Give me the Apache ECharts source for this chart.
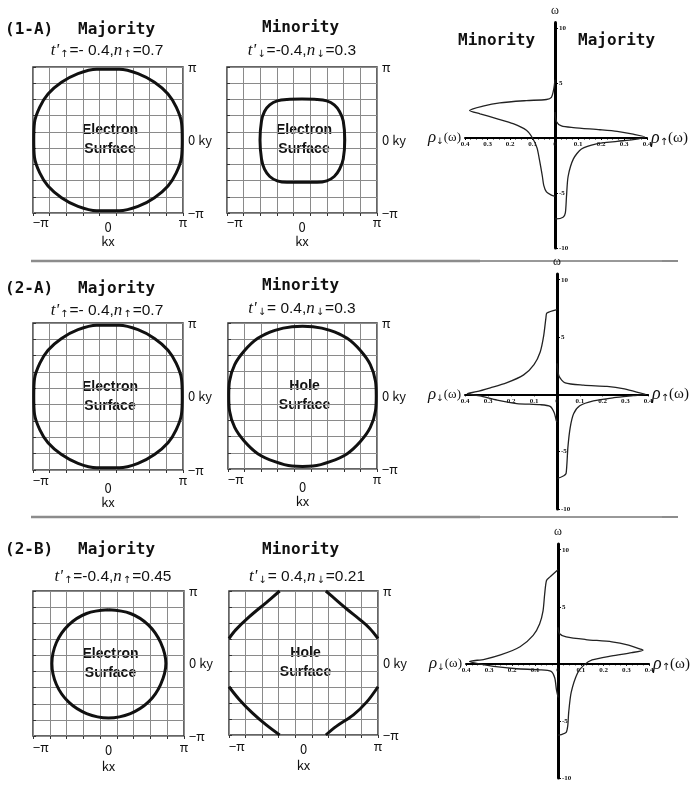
<!DOCTYPE html>
<html>
<head>
<meta charset="utf-8">
<script src="https://cdn.jsdelivr.net/npm/echarts@6/dist/echarts.min.js"></script>
<style>
  html, body { margin: 0; background: #fff; }
  #chart { width: 691px; height: 785px; }
</style>
</head>
<body>
<div id="chart"></div>
<script>
// Fermi surfaces, [kx, ky] in units of pi
const fsMajority07 = [[0,0.97],[0.15,0.97],[0.4,0.91],[0.62,0.79],[0.8,0.63],[0.91,0.45],[0.98,0.24],[0.99,0],[0.98,-0.24],[0.91,-0.45],[0.8,-0.63],[0.62,-0.79],[0.4,-0.91],[0.15,-0.97],[0,-0.97],[-0.15,-0.97],[-0.4,-0.91],[-0.62,-0.79],[-0.8,-0.63],[-0.91,-0.45],[-0.98,-0.24],[-0.99,0],[-0.98,0.24],[-0.91,0.45],[-0.8,0.63],[-0.62,0.79],[-0.4,0.91],[-0.15,0.97],[0,0.97]];
const fsMinority03e = [[0,0.56],[0.2,0.555],[0.33,0.535],[0.43,0.48],[0.5,0.39],[0.55,0.26],[0.57,0],[0.55,-0.26],[0.5,-0.4],[0.43,-0.5],[0.33,-0.56],[0.2,-0.58],[0,-0.58],[-0.2,-0.58],[-0.33,-0.56],[-0.43,-0.5],[-0.5,-0.4],[-0.54,-0.26],[-0.56,0],[-0.54,0.26],[-0.5,0.39],[-0.43,0.48],[-0.33,0.535],[-0.2,0.555],[0,0.56]];
const fsMinority03h = [[0,0.955],[0.14,0.95],[0.37,0.9],[0.6,0.79],[0.78,0.62],[0.91,0.43],[0.98,0.2],[0.99,0],[0.98,-0.2],[0.91,-0.43],[0.78,-0.62],[0.6,-0.79],[0.37,-0.9],[0.14,-0.96],[0,-0.965],[-0.14,-0.96],[-0.37,-0.9],[-0.6,-0.79],[-0.78,-0.62],[-0.91,-0.43],[-0.98,-0.2],[-0.99,0],[-0.98,0.2],[-0.91,0.43],[-0.78,0.62],[-0.6,0.79],[-0.37,0.9],[-0.14,0.95],[0,0.955]];
const fsMajority045 = [[0,0.74],[0.29,0.69],[0.53,0.53],[0.69,0.29],[0.76,0],[0.69,-0.29],[0.53,-0.53],[0.29,-0.69],[0,-0.75],[-0.29,-0.69],[-0.53,-0.53],[-0.69,-0.29],[-0.75,0],[-0.69,0.29],[-0.53,0.53],[-0.29,0.69],[0,0.74]];
const fsHoleTL = [[-0.32,1],[-0.5,0.84],[-0.73,0.64],[-0.91,0.46],[-1,0.34]];
const fsHoleTR = [[0.3,1],[0.4,0.91],[0.58,0.75],[0.76,0.6],[0.89,0.48],[1,0.34]];
const fsHoleBL = [[-1,-0.33],[-0.86,-0.51],[-0.68,-0.7],[-0.5,-0.86],[-0.32,-1]];
const fsHoleBR = [[1,-0.33],[0.85,-0.54],[0.67,-0.72],[0.44,-0.88],[0.3,-1]];

// density of states, [rho, omega]
const dos1Down = [[0,5.3],[0.006,4.4],[0.016,3.7],[0.038,3.5],[0.127,3.4],[0.245,3.2],[0.32,2.9],[0.38,2.5],[0.333,2.2],[0.26,1.76],[0.186,1.3],[0.127,0.7],[0.1,0],[0.08,-0.9],[0.068,-2.1],[0.056,-3.5],[0.05,-4.3],[0.038,-4.9],[0.016,-5.2],[0,-5.3]];
const dos1Up = [[0,2.35],[0.006,1.5],[0.028,1.1],[0.08,0.95],[0.196,0.75],[0.27,0.6],[0.34,0.35],[0.39,0.1],[0.34,-0.15],[0.27,-0.3],[0.18,-0.53],[0.115,-1.0],[0.08,-1.9],[0.057,-3.5],[0.05,-5.3],[0.045,-6.8],[0.035,-7.2],[0.006,-7.35],[0,-7.35]];
const dos2Down = [[0,7.4],[0.044,7.1],[0.048,6.7],[0.058,5.1],[0.073,3.7],[0.1,2.6],[0.145,1.7],[0.22,1.0],[0.29,0.57],[0.35,0.23],[0.39,0.06],[0.335,-0.14],[0.26,-0.5],[0.175,-0.8],[0.073,-0.9],[0.03,-1.05],[0.012,-1.6],[0.003,-2.3],[0,-2.4]];
const dos2Up = [[0,2.7],[0.009,1.57],[0.036,1.0],[0.116,0.8],[0.22,0.69],[0.29,0.51],[0.35,0.2],[0.39,0],[0.335,-0.11],[0.25,-0.29],[0.16,-0.57],[0.1,-1.0],[0.073,-1.7],[0.058,-2.9],[0.048,-4.6],[0.04,-6.9],[0.03,-7.1],[0.003,-7.3],[0,-7.3]];
const dos3Down = [[0,8.25],[0.036,7.6],[0.05,7.3],[0.058,6.1],[0.065,4.65],[0.08,3.5],[0.108,2.5],[0.165,1.5],[0.25,0.78],[0.32,0.4],[0.385,0.2],[0.338,-0.03],[0.28,-0.23],[0.18,-0.43],[0.08,-0.52],[0.03,-0.66],[0.014,-1.24],[0.007,-2.24],[0.001,-2.8],[0,-2.95]];
const dos3Up = [[0,3.2],[0.007,2.64],[0.036,2.36],[0.122,2.13],[0.237,1.93],[0.31,1.64],[0.367,1.26],[0.374,1.2],[0.324,0.98],[0.237,0.69],[0.15,0.34],[0.115,-0.09],[0.086,-0.8],[0.058,-2.5],[0.047,-4.25],[0.043,-5.4],[0.036,-6.0],[0.014,-6.2],[0,-6.25]];

const GOTHIC = 'DejaVu Sans Mono';
const SANS = 'Liberation Sans';
const SERIF = 'Liberation Serif';
const NARROW = 'Liberation Sans Narrow';

const grids = [];
const xAxes = [];
const yAxes = [];
const series = [];
const graphics = [];

function addSquare(box, curves, text, lab) {
  const gi = grids.length;
  grids.push({ left: box.x, top: box.y, width: box.w, height: box.h, show: true,
    borderColor: '#333', borderWidth: 1.5, backgroundColor: '#fff' });

  // grid-line axes (9 cells each way)
  xAxes.push({ gridIndex: gi, type: 'value', min: 0, max: 9, interval: 1, position: 'top',
    axisLine: { show: false }, axisLabel: { show: false },
    axisTick: { inside: true, length: 3, lineStyle: { color: '#333' } },
    splitLine: { lineStyle: { color: '#8a8a8a', width: 1 } } });
  yAxes.push({ gridIndex: gi, type: 'value', min: 0, max: 9, interval: 1, position: 'left',
    axisLine: { show: false }, axisLabel: { show: false },
    axisTick: { inside: true, length: 3, lineStyle: { color: '#333' } },
    splitLine: { lineStyle: { color: '#8a8a8a', width: 1 } } });

  // data axes in units of pi
  const xi = xAxes.length;
  xAxes.push({ gridIndex: gi, type: 'value', min: -1, max: 1, interval: 1, position: 'bottom',
    axisLine: { show: false }, axisTick: { show: false }, splitLine: { show: false },
    name: 'kx', nameLocation: 'middle', nameGap: lab.nameGap,
    nameTextStyle: { fontFamily: 'Noto Sans CJK JP', fontSize: 13, color: '#111' },
    axisLabel: { margin: lab.margin, alignMinLabel: 'left', color: '#111', fontFamily: 'Noto Sans CJK JP', fontSize: 13,
      formatter: v => v === -1 ? '−π' : (v === 1 ? 'π' : '{z|0}'),
      rich: { z: { fontFamily: 'Noto Sans CJK JP', fontSize: 13, color: '#111', padding: [lab.zeroPad, 0, 0, 0] } } } });
  const yi = yAxes.length;
  yAxes.push({ gridIndex: gi, type: 'value', min: -1, max: 1, interval: 1, position: 'right',
    axisLine: { show: false }, axisTick: { show: false }, splitLine: { show: false },
    axisLabel: { margin: 5, color: '#111', fontFamily: 'Noto Sans CJK JP', fontSize: 13,
      formatter: v => v === -1 ? '−π' : (v === 1 ? 'π' : '0 ky') } });

  curves.forEach(c => series.push({
    type: 'line', xAxisIndex: xi, yAxisIndex: yi, data: c, showSymbol: false, smooth: 0.35,
    lineStyle: { color: '#111', width: 3 }, silent: true
  }));

  graphics.push({ type: 'text', x: box.x + box.w / 2 + 2, y: box.y + box.h / 2,
    style: { text: text, align: 'center', verticalAlign: 'middle', font: 'bold 14px ' + SANS,
      lineHeight: 19, fill: '#111', stroke: '#fff', lineWidth: 2 } });
}

// thin helper grid that only carries a drawn rho axis at the omega = 0 line
function addRhoAxis(left, width, axisY, inverse, hideZero) {
  const g = grids.length;
  grids.push({ left: left, top: axisY - 10, width: width, height: 10 });
  xAxes.push({ gridIndex: g, type: 'value', min: 0, max: 0.4, interval: 0.1, inverse: inverse, position: 'bottom',
    axisLine: { lineStyle: { color: '#000', width: 2 } },
    axisTick: { length: 2, lineStyle: { color: '#000' } },
    minorTick: { show: true, splitNumber: 4, length: 1.5, lineStyle: { color: '#000' } },
    splitLine: { show: false },
    axisLabel: { margin: 3, fontFamily: NARROW, fontWeight: 'bold', fontSize: 7, color: '#111',
      formatter: v => (hideZero && v === 0) ? '' : String(v) } });
  yAxes.push({ gridIndex: g, type: 'value', show: false, min: 0, max: 1 });
}

function addDos(d) {
  const labelStyle = { fontFamily: NARROW, fontWeight: 'bold', fontSize: 7, color: '#111' };
  const axisY = d.top + d.h * 10.5 / 20.5;
  addRhoAxis(d.x0 - d.wl, d.wl, axisY, true, true);
  addRhoAxis(d.x0, d.wr, axisY, false, false);

  // left (minority) half, rho grows to the left
  const gl = grids.length;
  grids.push({ left: d.x0 - d.wl, top: d.top, width: d.wl, height: d.h });
  xAxes.push({ gridIndex: gl, type: 'value', min: 0, max: 0.4, inverse: true, show: false });
  yAxes.push({ gridIndex: gl, type: 'value', min: -10, max: 10.5, interval: 5, show: false });
  series.push({ type: 'line', xAxisIndex: xAxes.length - 1, yAxisIndex: yAxes.length - 1,
    data: d.down, showSymbol: false, smooth: 0.25, lineStyle: { color: '#222', width: 1.3 }, silent: true });

  // right (majority) half
  const gr = grids.length;
  grids.push({ left: d.x0, top: d.top, width: d.wr, height: d.h });
  xAxes.push({ gridIndex: gr, type: 'value', min: 0, max: 0.4, show: false });
  yAxes.push({ gridIndex: gr, type: 'value', min: -10, max: 10.5, interval: 5, position: 'left',
    axisLine: { onZero: false, lineStyle: { color: '#000', width: 3 } },
    axisTick: { inside: true, length: 3, lineStyle: { color: '#000' } },
    splitLine: { show: false },
    name: 'ω', nameLocation: 'end', nameGap: 6,
    nameTextStyle: { fontFamily: SERIF, fontSize: 12, color: '#111', align: 'center' },
    axisLabel: Object.assign({ inside: true, margin: 4, showMaxLabel: false,
      formatter: v => v === 0 ? '' : String(v) }, labelStyle) });
  series.push({ type: 'line', xAxisIndex: xAxes.length - 1, yAxisIndex: yAxes.length - 1,
    data: d.up, showSymbol: false, smooth: 0.25, lineStyle: { color: '#222', width: 1.3 }, silent: true });

  graphics.push({ type: 'text', x: d.x0 - d.wl - 4, y: axisY,
    style: { text: '{r|ρ}{a|↓}{w|(ω)}', align: 'right', verticalAlign: 'middle',
      rich: { r: { font: 'italic 17px ' + SERIF, fill: '#111' },
              a: { font: '9px DejaVu Sans', fill: '#111', verticalAlign: 'bottom', padding: [6, 0, 0, 0] },
              w: { font: '13px ' + SERIF, fill: '#111' } } } });
  graphics.push({ type: 'text', x: d.x0 + d.wr + 4, y: axisY,
    style: { text: '{r|ρ}{a|↑}{w|(ω)}', align: 'left', verticalAlign: 'middle',
      rich: { r: { font: 'italic 18px ' + SERIF, fill: '#111' },
              a: { font: '10px DejaVu Sans', fill: '#111', verticalAlign: 'bottom', padding: [6, 0, 0, 0] },
              w: { font: '15px ' + SERIF, fill: '#111' } } } });
}

function title(x, y, txt, align) {
  graphics.push({ type: 'text', x: x, y: y,
    style: { text: txt, align: align || 'left', verticalAlign: 'middle', font: 'bold 16px ' + GOTHIC, fill: '#111' } });
}

function param(x, y, spin, tval, nval) {
  const arrow = spin === 'up' ? '↑' : '↓';
  graphics.push({ type: 'text', x: x, y: y,
    style: { text: '{i|t\'}{a|' + arrow + '}{n|=' + tval + ',}{i|n}{a|' + arrow + '}{n|=' + nval + '}',
      align: 'center', verticalAlign: 'middle',
      rich: { i: { font: 'italic 17px ' + SERIF, fill: '#111' },
              a: { font: '10px DejaVu Sans', fill: '#111', padding: [7, 1, 0, 1] },
              n: { font: '15.5px ' + SANS, fill: '#111' } } } });
}

// squares
const rowTop = [67, 323, 591];
const rowLab = [
  { margin: 3, zeroPad: 5, nameGap: 21 },
  { margin: 4, zeroPad: 8, nameGap: 23 },
  { margin: 5, zeroPad: 3, nameGap: 24 }
];
addSquare({ x: 33, y: rowTop[0], w: 150, h: 146 }, [fsMajority07], 'Electron\nSurface', rowLab[0]);
addSquare({ x: 227, y: rowTop[0], w: 150, h: 146 }, [fsMinority03e], 'Electron\nSurface', rowLab[0]);
addSquare({ x: 33, y: rowTop[1], w: 150, h: 147 }, [fsMajority07], 'Electron\nSurface', rowLab[1]);
addSquare({ x: 228, y: rowTop[1], w: 149, h: 146 }, [fsMinority03h], 'Hole\nSurface', rowLab[1]);
addSquare({ x: 33, y: rowTop[2], w: 151, h: 145 }, [fsMajority045], 'Electron\nSurface', rowLab[2]);
addSquare({ x: 229, y: rowTop[2], w: 149, h: 144 }, [fsHoleTL, fsHoleTR, fsHoleBL, fsHoleBR], 'Hole\nSurface', rowLab[2]);

// DOS panels
addDos({ x0: 555, wl: 90, wr: 92, top: 22.5, h: 225.5, down: dos1Down, up: dos1Up });
addDos({ x0: 557, wl: 92, wr: 91, top: 274, h: 235, down: dos2Down, up: dos2Up });
addDos({ x0: 558, wl: 92, wr: 91, top: 544, h: 234, down: dos3Down, up: dos3Up });

// row titles
title(5, 30, '(1-A)');
title(78, 30, 'Majority');
title(262, 28, 'Minority');
param(107, 51, 'up', '- 0.4', '0.7');
param(302, 51, 'down', '-0.4', '0.3');
title(458, 41, 'Minority');
title(578, 41, 'Majority');

title(5, 289, '(2-A)');
title(78, 289, 'Majority');
title(262, 286, 'Minority');
param(107, 311, 'up', '- 0.4', '0.7');
param(302, 309, 'down', ' 0.4', '0.3');

title(5, 550, '(2-B)');
title(78, 550, 'Majority');
title(262, 550, 'Minority');
param(113, 577, 'up', '-0.4', '0.45');
param(307, 577, 'down', ' 0.4', '0.21');

// separators
[261, 517].forEach(y => {
  graphics.push({ type: 'line', shape: { x1: 31, y1: y, x2: 480, y2: y }, style: { stroke: '#8c8c8c', lineWidth: 2.5 } });
  graphics.push({ type: 'line', shape: { x1: 480, y1: y, x2: 662, y2: y }, style: { stroke: '#333', lineWidth: 1 } });
  graphics.push({ type: 'line', shape: { x1: 662, y1: y, x2: 678, y2: y }, style: { stroke: '#8c8c8c', lineWidth: 2 } });
});

const chart = echarts.init(document.getElementById('chart'));
chart.setOption({
  animation: false,
  backgroundColor: '#fff',
  grid: grids,
  xAxis: xAxes,
  yAxis: yAxes,
  series: series,
  graphic: graphics
});
</script>
</body>
</html>
